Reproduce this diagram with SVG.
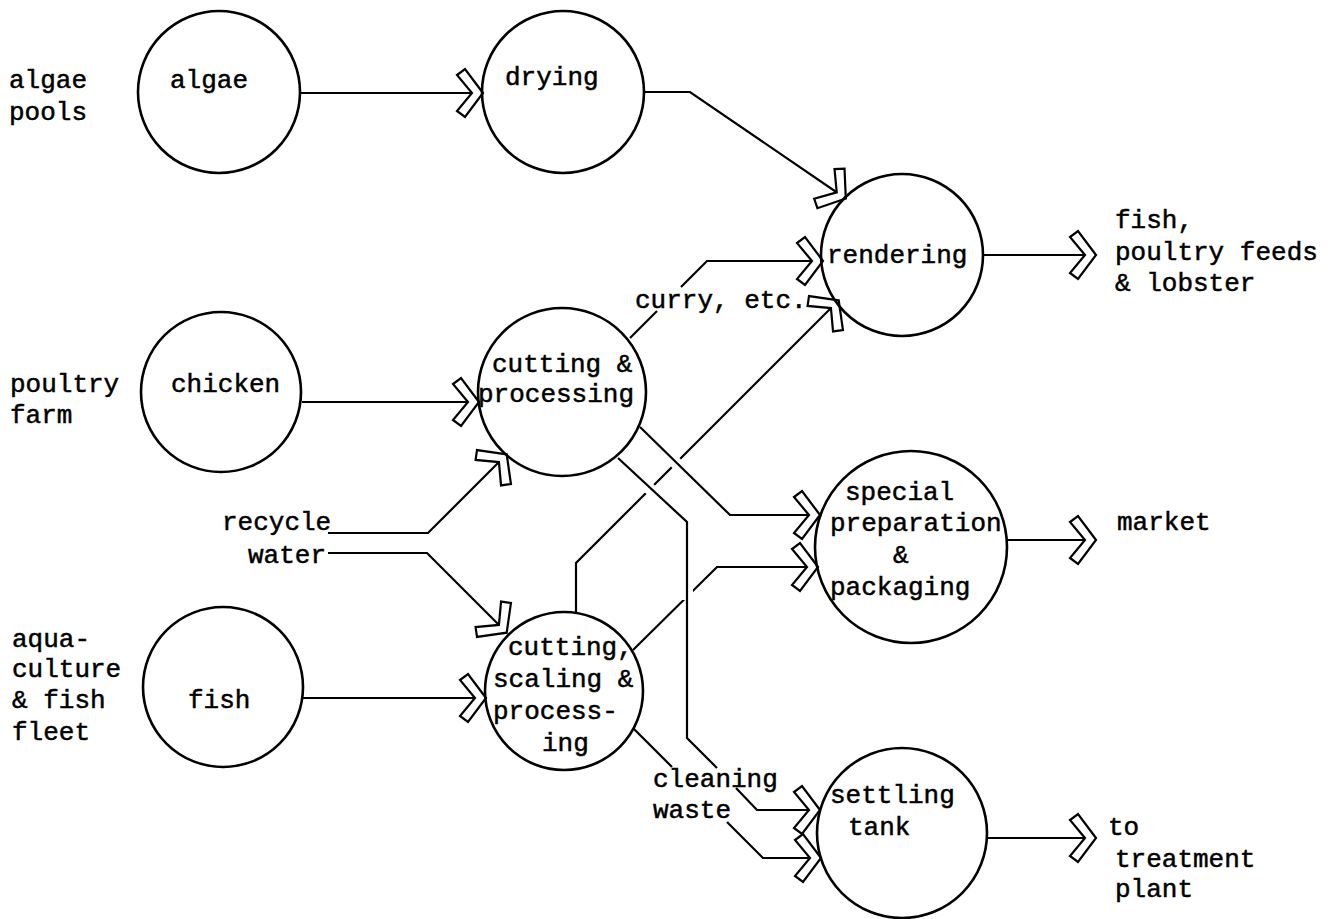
<svg xmlns="http://www.w3.org/2000/svg" width="1335" height="919" viewBox="0 0 1335 919">
<style>
text{font-family:"Liberation Mono","Courier New",monospace;font-size:26px;fill:#000;stroke:#000;stroke-width:0.5}
.node{fill:none;stroke:#000;stroke-width:2.6}
.ln{fill:none;stroke:#000;stroke-width:2.2}
.halo{fill:none;stroke:#fff;stroke-width:12}
</style>
<defs>
<marker id="chev" viewBox="-30 -28 34 56" refX="0" refY="0" markerWidth="34" markerHeight="56" markerUnits="userSpaceOnUse" orient="auto">
<path d="M1,0 L-17,-24 L-25,-18 L-10,0 L-25,18 L-17,24 Z" fill="#fff" stroke="#000" stroke-width="2.2" stroke-linejoin="miter"/>
</marker>
</defs>
<rect width="1335" height="919" fill="#fff"/>
<g id="connectors">
<path class="ln" d="M576,612 V563 L838,301" marker-end="url(#chev)"/>
<path class="ln" d="M633,650 L717,567 H817" marker-end="url(#chev)"/>
<path class="halo" d="M650,437 L720,507"/>
<path class="halo" d="M635,475 L687,524 V600"/>
<path class="ln" d="M640,427 L730,515 H819" marker-end="url(#chev)"/>
<path class="ln" d="M618,458 L687,522 V738 L717,768"/>
<path class="ln" d="M736,788 L757,810 H819" marker-end="url(#chev)"/>
<path class="ln" d="M633,728 L672,767"/>
<path class="ln" d="M727,822 L763,858 H820" marker-end="url(#chev)"/>
<path class="ln" d="M300,93 H482" marker-end="url(#chev)"/>
<path class="ln" d="M643,92 H690 L845,198" marker-end="url(#chev)"/>
<path class="ln" d="M302,402 H478" marker-end="url(#chev)"/>
<path class="ln" d="M303,698 H485" marker-end="url(#chev)"/>
<path class="ln" d="M630,338 L657,311"/>
<path class="ln" d="M681,287 L707,261 H822" marker-end="url(#chev)"/>
<path class="ln" d="M328,533 H428 L506,455" marker-end="url(#chev)"/>
<path class="ln" d="M328,553 H427 L506,632" marker-end="url(#chev)"/>
<path class="ln" d="M983,255 H1095" marker-end="url(#chev)"/>
<path class="ln" d="M1008,540 H1095" marker-end="url(#chev)"/>
<path class="ln" d="M987,838 H1095" marker-end="url(#chev)"/>
</g>
<g id="src-algae-pools"><text x="9" y="88">algae</text><text x="9" y="120">pools</text></g>
<g id="src-poultry-farm"><text x="10" y="392">poultry</text><text x="10" y="423">farm</text></g>
<g id="src-aquaculture"><text x="12" y="647">aqua-</text><text x="12" y="677">culture</text><text x="12" y="708">&amp; fish</text><text x="12" y="740">fleet</text></g>
<g id="node-algae"><circle class="node" cx="219" cy="92" r="81"/><text x="170" y="88">algae</text></g>
<g id="node-chicken"><circle class="node" cx="221" cy="392" r="80"/><text x="171" y="392">chicken</text></g>
<g id="node-fish"><circle class="node" cx="223" cy="687" r="80"/><text x="188" y="708">fish</text></g>
<g id="node-drying"><circle class="node" cx="563" cy="92" r="81"/><text x="505" y="85">drying</text></g>
<g id="node-cutting-processing"><circle class="node" cx="562" cy="392" r="84"/><text x="492" y="372">cutting &amp;</text><text x="478" y="402">processing</text></g>
<g id="node-cutting-scaling"><circle class="node" cx="564" cy="691" r="79"/><text x="508" y="655">cutting,</text><text x="493" y="687">scaling &amp;</text><text x="493" y="719">process-</text><text x="542" y="751">ing</text></g>
<g id="node-rendering"><circle class="node" cx="902" cy="255" r="81"/><text x="827" y="263">rendering</text></g>
<g id="node-special"><circle class="node" cx="911" cy="547" r="96"/><text x="845" y="500">special</text><text x="830" y="531">preparation</text><text x="893" y="563">&amp;</text><text x="830" y="595">packaging</text></g>
<g id="node-settling"><circle class="node" cx="902" cy="833" r="85"/><text x="830" y="803">settling</text><text x="848" y="835">tank</text></g>
<g id="label-recycle"><text x="222" y="530">recycle</text><text x="248" y="563">water</text></g>
<g id="label-curry"><text x="635" y="308">curry, etc.</text></g>
<g id="label-cleaning"><text x="653" y="787">cleaning</text><text x="653" y="818">waste</text></g>
<g id="out-feeds"><text x="1115" y="228">fish,</text><text x="1115" y="260">poultry feeds</text><text x="1115" y="291">&amp; lobster</text></g>
<g id="out-market"><text x="1117" y="530">market</text></g>
<g id="out-treatment"><text x="1108" y="835">to</text><text x="1115" y="867">treatment</text><text x="1115" y="897">plant</text></g>
</svg>
